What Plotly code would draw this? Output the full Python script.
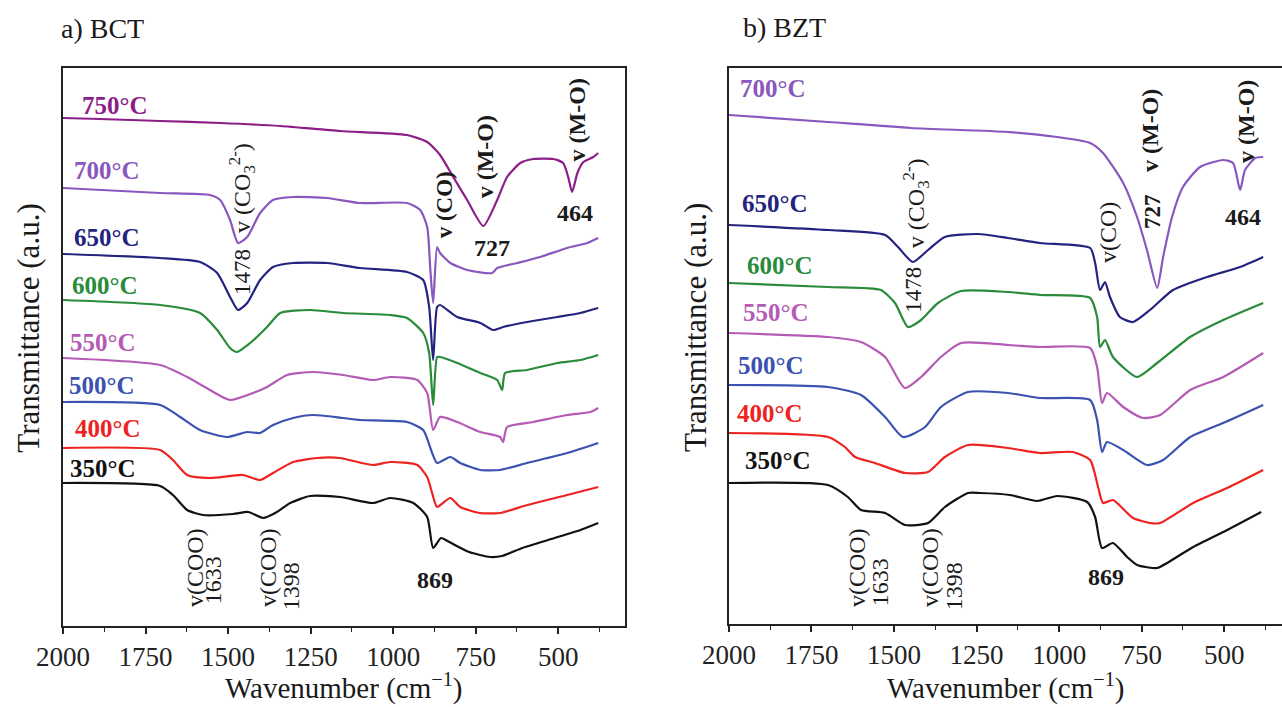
import plotly.graph_objects as go

# ---------------- data ----------------
# a) BCT  — wavenumber (cm-1) and transmittance (a.u., stacked offsets)
BCT_750_WN = [2000,1888,1706,1524,1342,1161,958,897,858,818,776,727,685,655,615,576,515,485,470,458,442,424,394,379]
BCT_750_T = [50.8,50.7,50.5,50.3,50.0,49.5,49.1,48.4,47.1,44.9,42.6,40.0,42.6,44.9,46.3,46.7,46.7,46.3,44.9,43.4,45.3,46.4,46.9,47.3]
BCT_700_WN = [2000,1706,1555,1524,1494,1470,1442,1403,1364,1303,1200,1100,958,918,897,888,879,867,858,827,776,700,685,624,555,473,412,379]
BCT_700_T = [43.8,43.3,43.1,42.6,40.6,38.3,38.9,41.3,42.6,42.9,42.8,42.3,42.3,41.6,39.9,35.9,32.3,37.9,37.3,36.3,35.6,35.3,35.8,36.3,36.9,37.8,38.3,38.8]
BCT_650_WN = [2000,1706,1585,1533,1494,1470,1442,1403,1364,1303,1200,1100,958,909,891,879,867,858,806,736,697,667,594,503,433,379]
BCT_650_T = [37.2,36.8,36.4,35.3,32.9,31.6,32.3,34.6,35.9,36.3,36.3,35.8,35.4,34.6,31.9,26.6,31.9,32.1,30.9,30.3,29.6,29.9,30.4,30.9,31.3,31.8]
BCT_600_WN = [2000,1706,1585,1533,1494,1473,1433,1382,1342,1252,1152,1009,958,909,891,879,867,858,806,736,685,670,661,594,503,433,379]
BCT_600_T = [32.6,32.1,31.3,29.6,27.8,27.4,28.3,29.9,31.3,31.6,31.3,31.1,30.8,29.3,27.3,22.1,26.9,26.9,26.3,25.3,24.6,23.6,25.3,25.6,26.3,26.6,27.1]
BCT_550_WN = [2000,1706,1624,1555,1494,1424,1382,1321,1242,1152,1061,1009,927,897,879,858,806,736,676,667,655,576,473,403,379]
BCT_550_T = [26.8,26.1,24.9,23.6,22.6,23.3,23.9,25.1,25.4,25.1,24.6,24.9,24.6,23.3,19.6,20.9,20.4,19.4,18.9,18.4,19.9,20.4,21.1,21.4,21.8]
BCT_500_WN = [2000,1706,1645,1585,1503,1442,1403,1364,1303,1242,1152,1100,958,909,882,867,827,797,736,676,594,473,379]
BCT_500_T = [22.4,22.1,20.9,19.6,18.9,19.4,19.3,20.1,20.8,21.1,20.8,20.6,20.4,19.6,17.3,16.3,16.9,16.3,15.6,15.6,16.3,17.3,18.3]
BCT_400_WN = [2000,1706,1667,1624,1555,1455,1403,1364,1303,1230,1161,1061,1009,927,897,882,867,827,797,736,676,594,473,379]
BCT_400_T = [17.8,17.6,16.6,15.1,14.8,15.1,14.6,15.3,16.4,16.8,16.8,16.1,16.4,16.1,14.9,13.3,11.9,12.8,11.9,11.3,11.3,12.1,13.1,13.9]
BCT_350_WN = [2000,1706,1667,1624,1576,1485,1439,1394,1352,1312,1252,1161,1061,1009,939,897,879,855,830,770,706,670,609,521,433,379]
BCT_350_T = [14.3,14.0,13.1,11.6,11.1,11.2,11.4,10.8,11.4,12.3,13.0,12.9,12.3,12.8,12.3,10.9,7.8,8.8,8.4,7.4,6.9,7.0,7.8,8.7,9.6,10.3]

# b) BZT
BZT_700_WN = [2000,1700,1449,1155,1006,906,867,806,764,734,703,685,658,625,573,503,473,452,437,406,382]
BZT_700_T = [50.9,50.2,49.6,49.2,48.7,48.1,47.1,44.1,40.7,37.4,33.6,36.7,40.7,43.7,45.7,46.4,46.1,43.4,45.4,46.6,46.7]
BZT_650_WN = [2000,1700,1527,1488,1443,1397,1346,1246,1155,1058,906,891,876,861,846,816,776,725,655,552,452,382]
BZT_650_T = [39.9,39.4,38.9,37.7,36.2,37.4,38.7,39.0,38.6,38.1,37.6,36.1,33.4,34.2,32.7,30.7,30.2,31.4,33.4,34.7,35.7,36.7]
BZT_600_WN = [2000,1700,1540,1497,1458,1418,1367,1297,1155,1058,906,885,876,861,837,764,703,603,503,382]
BZT_600_T = [34.1,33.7,33.4,32.1,29.7,30.4,32.1,33.3,33.2,32.9,32.6,30.7,27.7,28.4,26.7,24.7,26.1,28.7,30.4,32.1]
BZT_550_WN = [2000,1700,1600,1527,1467,1418,1358,1297,1155,1058,906,885,870,855,806,746,694,603,503,382]
BZT_550_T = [29.1,28.7,28.2,26.7,23.6,24.7,26.7,28.1,27.9,27.7,27.6,25.7,22.1,23.1,21.7,20.6,20.9,23.4,24.7,27.1]
BZT_500_WN = [2000,1700,1600,1527,1473,1406,1358,1276,1155,1058,906,885,870,855,806,734,685,603,503,382]
BZT_500_T = [23.9,23.7,22.9,20.7,18.7,19.7,21.7,23.2,23.1,22.6,22.4,20.4,17.2,18.2,17.4,15.9,16.4,18.7,20.1,21.9]
BZT_400_WN = [2000,1700,1649,1618,1558,1467,1397,1346,1276,1155,1058,958,906,882,867,837,776,725,694,594,491,382]
BZT_400_T = [19.1,18.7,17.7,16.7,16.1,15.1,15.2,16.7,17.9,17.6,17.1,17.2,16.4,13.7,12.1,12.4,10.6,10.1,10.1,12.1,13.6,15.4]
BZT_350_WN = [2000,1700,1640,1600,1527,1467,1397,1346,1276,1240,1149,1067,1006,915,891,870,837,794,764,703,673,594,491,388]
BZT_350_T = [14.1,13.9,12.7,11.4,11.1,9.9,10.1,11.7,13.1,13.1,12.9,12.3,12.8,12.2,10.7,7.6,8.1,6.7,5.9,5.6,6.1,7.7,9.4,11.2]

TICK_VALUES = [2000, 1750, 1500, 1250, 1000, 750, 500]
TICK_LABELS = ["2000", "1750", "1500", "1250", "1000", "750", "500"]

COLORS = {
    "750": "#8B1E87",
    "700": "#8957BD",
    "650": "#24237F",
    "600": "#2A8B3A",
    "550": "#B45BB5",
    "500": "#3B52B1",
    "400": "#EC2320",
    "350": "#111111",
}

BCT_SERIES = [
    ("750", BCT_750_WN, BCT_750_T),
    ("700", BCT_700_WN, BCT_700_T),
    ("650", BCT_650_WN, BCT_650_T),
    ("600", BCT_600_WN, BCT_600_T),
    ("550", BCT_550_WN, BCT_550_T),
    ("500", BCT_500_WN, BCT_500_T),
    ("400", BCT_400_WN, BCT_400_T),
    ("350", BCT_350_WN, BCT_350_T),
]
BZT_SERIES = [
    ("700", BZT_700_WN, BZT_700_T),
    ("650", BZT_650_WN, BZT_650_T),
    ("600", BZT_600_WN, BZT_600_T),
    ("550", BZT_550_WN, BZT_550_T),
    ("500", BZT_500_WN, BZT_500_T),
    ("400", BZT_400_WN, BZT_400_T),
    ("350", BZT_350_WN, BZT_350_T),
]

# temperature label positions (wavenumber, transmittance)
BCT_LABEL_POS = {"750": (1948, 52.1), "700": (1973, 45.6), "650": (1973, 38.9), "600": (1979, 34.1),
                 "550": (1985, 28.4), "500": (1988, 24.1), "400": (1970, 19.8), "350": (1985, 15.8)}
BZT_LABEL_POS = {"700": (1973, 53.6), "650": (1967, 42.1), "600": (1952, 35.9), "550": (1964, 31.2),
                 "500": (1979, 25.9), "400": (1982, 21.1), "350": (1958, 16.4)}

FONT = "Liberation Serif"
INK = "#1a1a1a"

fig = go.Figure()
for name, wn, t in BCT_SERIES:
    fig.add_trace(go.Scatter(x=wn, y=t, mode="lines",
                             line=dict(color=COLORS[name], width=2.2, shape="spline", smoothing=0.6),
                             xaxis="x", yaxis="y", showlegend=False, name=name + "°C"))
for name, wn, t in BZT_SERIES:
    fig.add_trace(go.Scatter(x=wn, y=t, mode="lines",
                             line=dict(color=COLORS[name], width=2.2, shape="spline", smoothing=0.6),
                             xaxis="x2", yaxis="y2", showlegend=False, name=name + "°C"))

ann = []


def add(text, x, y, xref, yref, size=24, bold=False, angle=0, color=INK, xanchor="center", yanchor="middle"):
    if bold:
        text = "<b>" + text + "</b>"
    ann.append(dict(text=text, x=x, y=y, xref=xref, yref=yref, showarrow=False, textangle=angle,
                    font=dict(family=FONT, size=size, color=color), xanchor=xanchor, yanchor=yanchor))


for name, (wx, ty) in BCT_LABEL_POS.items():
    add(name + "°C", wx, ty, "x", "y", size=25, bold=True, color=COLORS[name], xanchor="left")
for name, (wx, ty) in BZT_LABEL_POS.items():
    add(name + "°C", wx, ty, "x2", "y2", size=25, bold=True, color=COLORS[name], xanchor="left")

CO3 = "v (CO<sub>3</sub><sup>2-</sup>)"
# left panel peak annotations
add(CO3, 1458, 43.8, "x", "y", size=24, angle=-90)
add("1478", 1458, 35.4, "x", "y", size=23, angle=-90)
add("v (CO)", 845, 42.1, "x", "y", size=23, bold=True, angle=-90)
add("v (M-O)", 721, 46.9, "x", "y", size=24, bold=True, angle=-90)
add("727", 700, 37.8, "x", "y", size=24, bold=True)
add("v (M-O)", 442, 50.6, "x", "y", size=24, bold=True, angle=-90)
add("464", 449, 41.3, "x", "y", size=24, bold=True)
add("869", 873, 4.6, "x", "y", size=24, bold=True)
add("v(COO)", 1600, 5.8, "x", "y", size=24, angle=-90)
add("1633", 1545, 4.6, "x", "y", size=24, angle=-90)
add("v(COO)", 1379, 5.8, "x", "y", size=24, angle=-90)
add("1398", 1309, 4.0, "x", "y", size=24, angle=-90)

# right panel peak annotations
add(CO3, 1433, 42.1, "x2", "y2", size=24, angle=-90)
add("1478", 1443, 33.4, "x2", "y2", size=23, angle=-90)
add("v(CO)", 852, 39.2, "x2", "y2", size=24, angle=-90)
add("v (M-O)", 725, 49.4, "x2", "y2", size=24, bold=True, angle=-90)
add("727", 719, 41.3, "x2", "y2", size=23, bold=True, angle=-90)
add("v (M-O)", 434, 50.2, "x2", "y2", size=24, bold=True, angle=-90)
add("464", 443, 40.7, "x2", "y2", size=24, bold=True)
add("869", 858, 4.7, "x2", "y2", size=24, bold=True)
add("v(COO)", 1612, 5.6, "x2", "y2", size=24, angle=-90)
add("1633", 1542, 4.2, "x2", "y2", size=24, angle=-90)
add("v(COO)", 1391, 5.6, "x2", "y2", size=24, angle=-90)
add("1398", 1318, 3.8, "x2", "y2", size=24, angle=-90)

# panel titles and axis titles (paper coordinates)
add("a) BCT", -0.003, 1.07, "paper", "paper", size=28, xanchor="left")
add("b) BZT", 0.556, 1.072, "paper", "paper", size=28, xanchor="left")
add("Transmittance (a.u.)", -0.029, 0.534, "paper", "paper", size=31, angle=-90)
add("Transmittance (a.u.)", 0.5185, 0.534, "paper", "paper", size=31, angle=-90)
add("Wavenumber (cm<sup>−1</sup>)", 0.2305, -0.1452, "paper", "paper", size=29, yanchor="bottom")
add("Wavenumber (cm<sup>−1</sup>)", 0.7735, -0.1452, "paper", "paper", size=29, yanchor="bottom")

xcommon = dict(showline=True, linecolor="#222", linewidth=1.6, ticks="outside", ticklen=6, tickwidth=1.5,
               tickcolor="#222", tickvals=TICK_VALUES, ticktext=TICK_LABELS,
               minor=dict(ticks="outside", ticklen=4, tickwidth=1.3, tickcolor="#222", dtick=125, tick0=0),
               showgrid=False, zeroline=False, tickfont=dict(family=FONT, size=27, color="#222"))
ycommon = dict(showline=True, linecolor="#222", linewidth=1.6, ticks="", showticklabels=False,
               showgrid=False, zeroline=False)

fig.update_layout(
    width=1282, height=707,
    margin=dict(l=63, r=0, t=68, b=81),
    paper_bgcolor="white", plot_bgcolor="white",
    xaxis=dict(domain=[0, 0.4610], range=[2000, 298], anchor="y", mirror=True, **xcommon),
    yaxis=dict(domain=[0, 1], range=[0, 55.8], anchor="x", mirror=True, **ycommon),
    xaxis2=dict(domain=[0.5463, 1], range=[2000, 325], anchor="y2", mirror=True, **xcommon),
    yaxis2=dict(domain=[2 / 558, 1], range=[0, 55.6], anchor="x2", mirror=False, **ycommon),
    annotations=ann,
)

fig.write_html("out.html")
